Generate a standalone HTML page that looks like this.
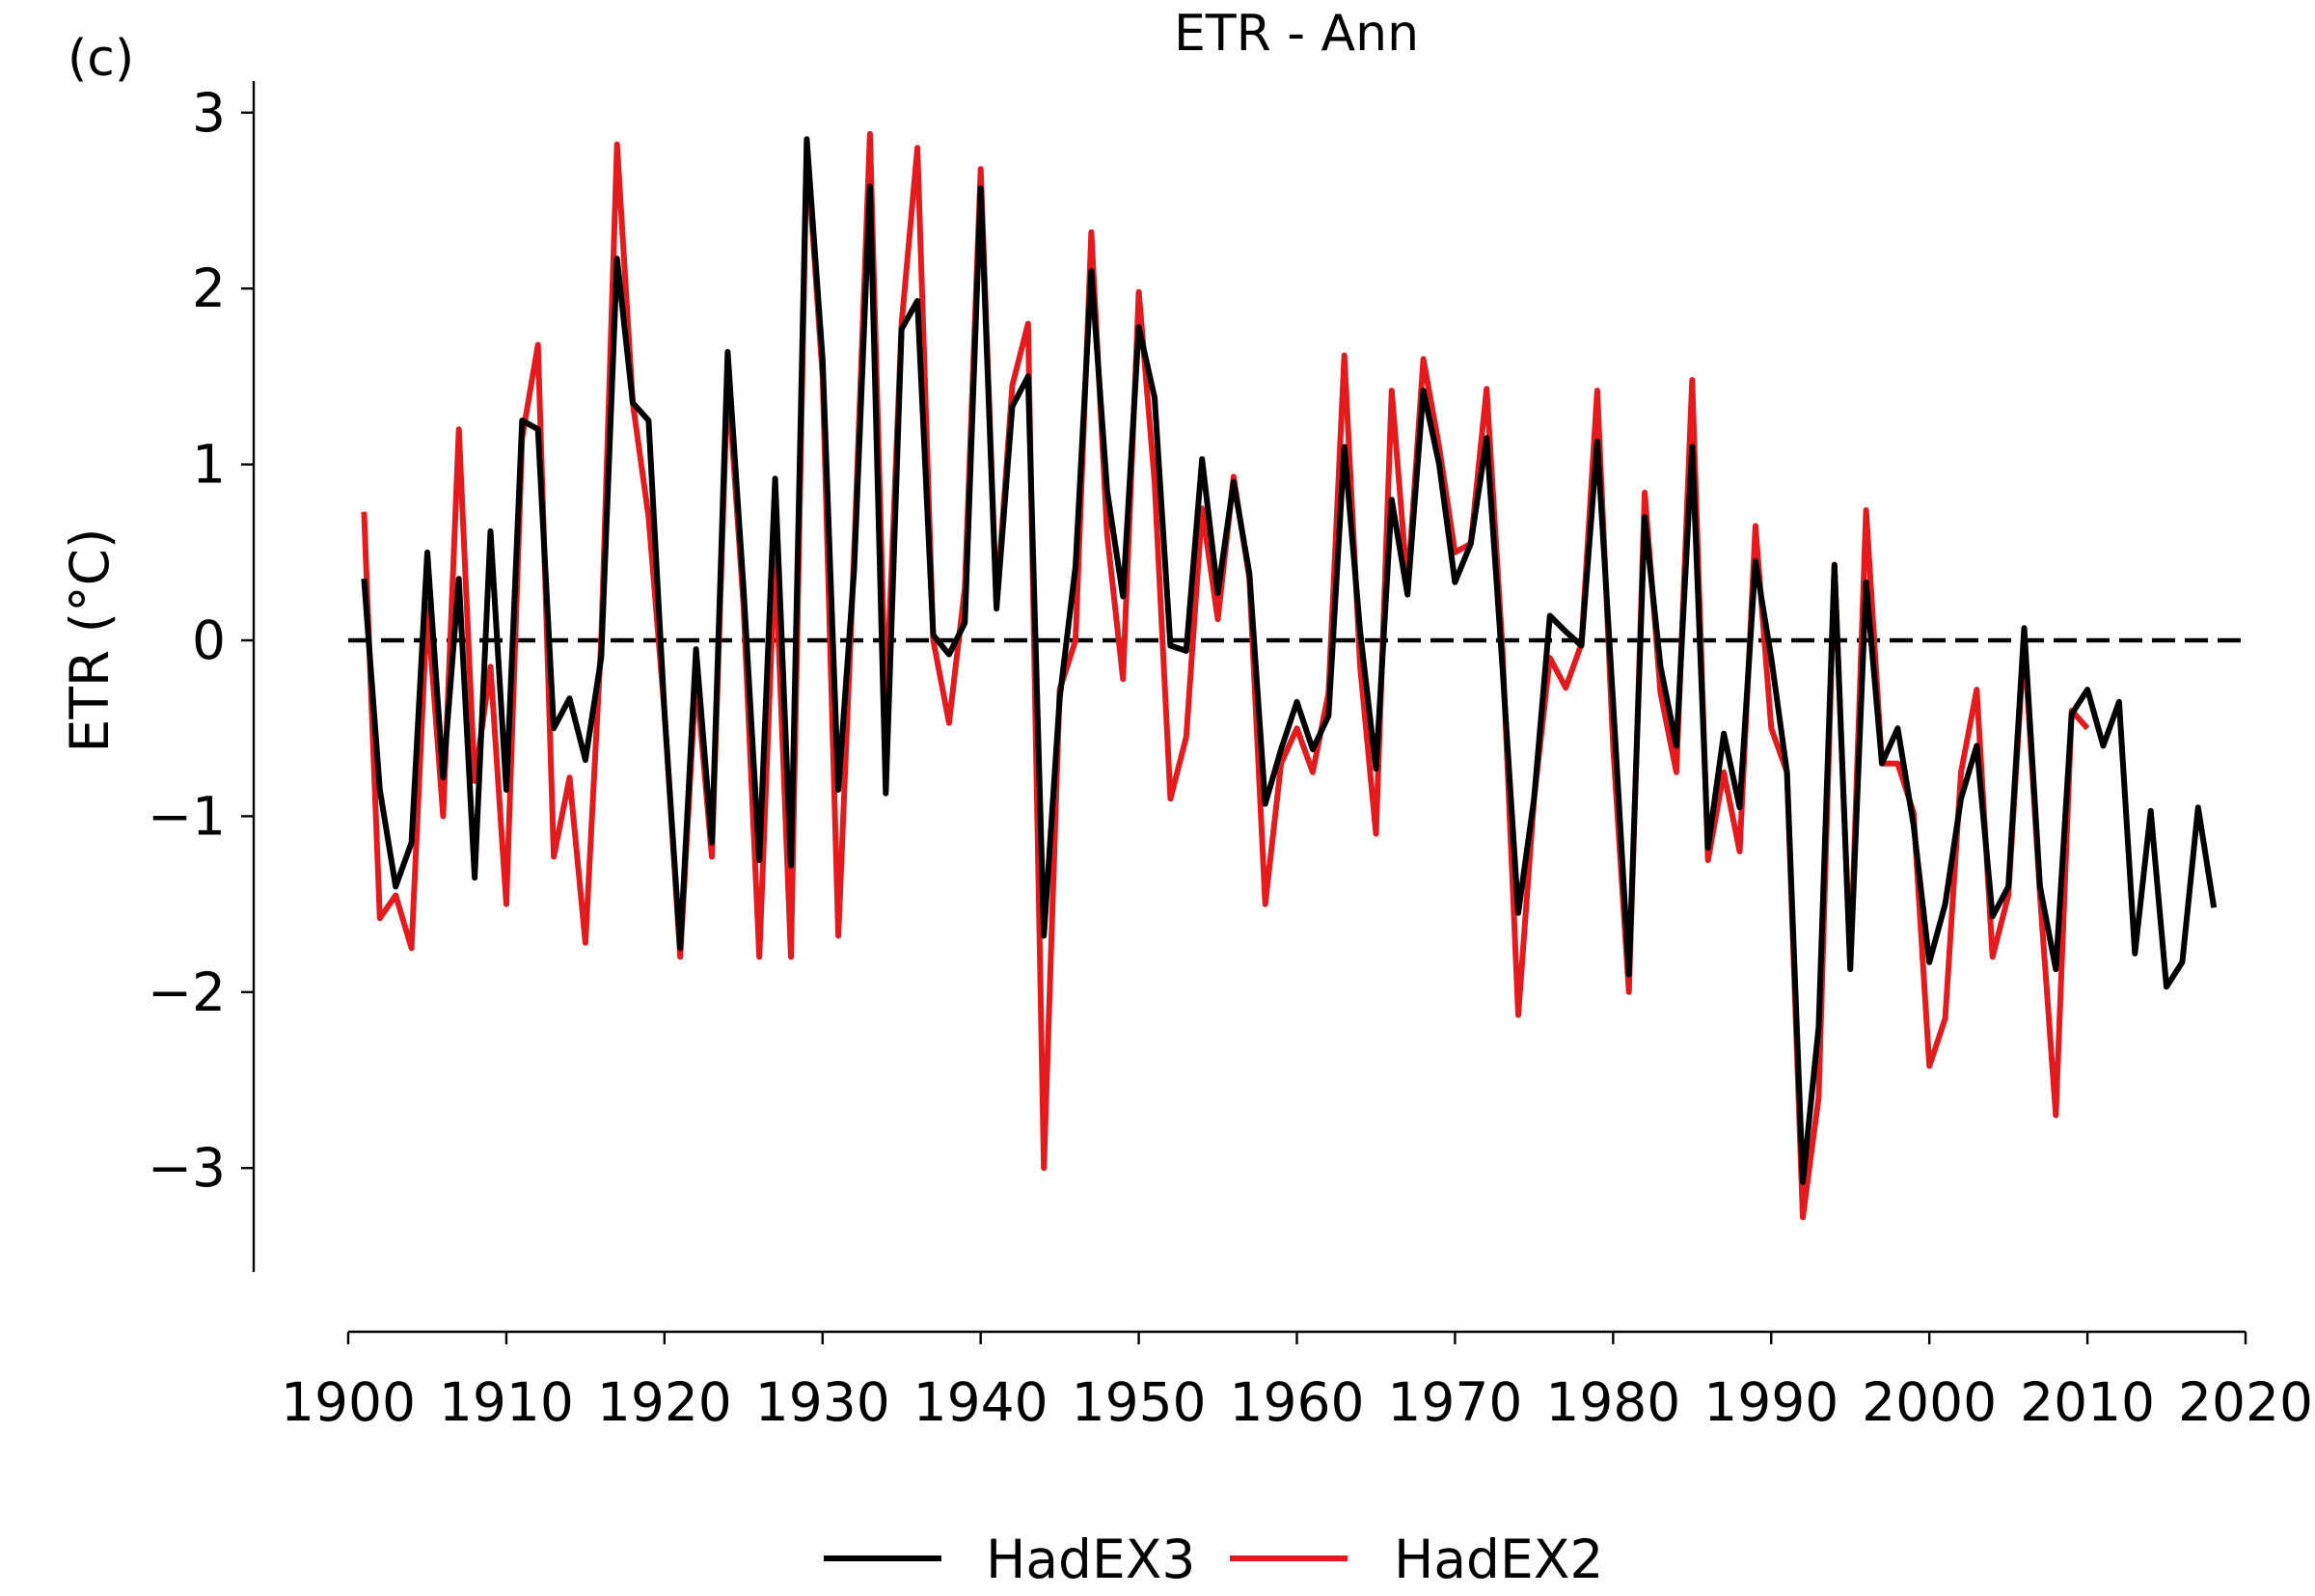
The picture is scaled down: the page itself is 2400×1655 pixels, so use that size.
<!DOCTYPE html>
<html><head><meta charset="utf-8"><style>
html,body{margin:0;padding:0;background:#fff;}
svg text{font-family:"DejaVu Sans","Liberation Sans",sans-serif;fill:#000;}
</style></head><body>
<svg id="chart" width="2400" height="1650" viewBox="0 0 2400 1650" xmlns="http://www.w3.org/2000/svg">
<text x="70" y="78" font-size="52">(c)</text>
<text x="1344" y="52" font-size="52" text-anchor="middle">ETR - Ann</text>
<text transform="translate(112,664) rotate(-90)" font-size="55" text-anchor="middle">ETR (°C)</text>
<g id="axes"></g>
<g id="series"></g>
<g>
<line x1="854" y1="1616" x2="976" y2="1616" stroke="#000" stroke-width="6"/>
<text x="1022" y="1636" font-size="55">HadEX3</text>
<line x1="1275" y1="1616" x2="1397" y2="1616" stroke="#e41a1c" stroke-width="6"/>
<text x="1445" y="1636" font-size="55">HadEX2</text>
</g>
</svg>
<script>
const xTicks = [1900,1910,1920,1930,1940,1950,1960,1970,1980,1990,2000,2010,2020];
const yTicks = [-3,-2,-1,0,1,2,3];
const yTickLabels = ["\u22123","\u22122","\u22121","0","1","2","3"];
const hadex3Start = 1901;
const hadex3 = [0.35,-0.85,-1.4,-1.15,0.5,-0.78,0.35,-1.35,0.62,-0.85,1.25,1.2,-0.5,-0.33,-0.68,-0.1,2.17,1.35,1.25,-0.4,-1.75,-0.05,-1.15,1.64,0.3,-1.25,0.92,-1.28,2.85,1.6,-0.85,0.4,2.58,-0.87,1.77,1.93,0.03,-0.08,0.1,2.57,0.18,1.33,1.5,-1.68,-0.33,0.42,2.1,0.85,0.25,1.78,1.38,-0.03,-0.06,1.03,0.27,0.9,0.38,-0.93,-0.62,-0.35,-0.62,-0.43,1.1,0.05,-0.73,0.8,0.26,1.42,1.0,0.33,0.55,1.15,-0.15,-1.55,-0.9,0.14,0.05,-0.03,1.13,-0.35,-1.9,0.7,-0.15,-0.6,1.1,-1.18,-0.53,-0.95,0.45,-0.1,-0.75,-3.08,-2.2,0.43,-1.87,0.33,-0.7,-0.5,-1.05,-1.83,-1.5,-0.9,-0.6,-1.57,-1.4,0.07,-1.4,-1.87,-0.42,-0.28,-0.6,-0.35,-1.78,-0.97,-1.97,-1.83,-0.95,-1.52];
const hadex2Start = 1901;
const hadex2 = [0.73,-1.58,-1.45,-1.75,0.2,-1.0,1.2,-0.8,-0.15,-1.5,1.15,1.68,-1.23,-0.78,-1.72,0.0,2.82,1.35,0.7,-0.4,-1.8,-0.2,-1.23,1.5,0.2,-1.8,0.5,-1.8,2.8,1.5,-1.68,0.5,2.88,-0.4,1.8,2.8,0.0,-0.47,0.3,2.68,0.2,1.45,1.8,-3.0,-0.28,0.0,2.32,0.6,-0.22,1.98,0.9,-0.9,-0.55,0.75,0.12,0.93,0.35,-1.5,-0.7,-0.5,-0.75,-0.3,1.62,-0.15,-1.1,1.42,0.3,1.6,1.1,0.5,0.55,1.43,-0.05,-2.13,-0.9,-0.1,-0.27,-0.02,1.42,-0.6,-2.0,0.84,-0.3,-0.75,1.48,-1.25,-0.75,-1.2,0.65,-0.5,-0.75,-3.28,-2.6,0.43,-1.85,0.74,-0.7,-0.7,-0.98,-2.42,-2.15,-0.75,-0.28,-1.8,-1.45,0.0,-1.45,-2.7,-0.4,-0.5];

const NS='http://www.w3.org/2000/svg';
function xs(yr){return 361+(yr-1900)*(2328-361)/120;}
function ys(v){return 664-v*182.4;}
function mk(tag,attrs,parent){const e=document.createElementNS(NS,tag);for(const k in attrs)e.setAttribute(k,attrs[k]);parent.appendChild(e);return e;}
const axes=document.getElementById('axes');
const series=document.getElementById('series');

let ySp=mk('line',{x1:263,y1:84,x2:263,y2:1319,stroke:'#000','stroke-width':2.4},axes);


let xSp=mk('line',{x1:361,y1:1381,x2:2328,y2:1381,stroke:'#000','stroke-width':2.4},axes);



yTicks.forEach((v,i)=>{
  const t=mk('line',{x1:250,y1:ys(v),x2:263,y2:ys(v),stroke:'#000','stroke-width':2.4},axes);
  
  
  const l=mk('text',{x:234,y:ys(v)+19,'font-size':55,'text-anchor':'end'},axes);
  l.textContent=yTickLabels[i];
  
  
});
xTicks.forEach(yr=>{
  const t=mk('line',{x1:xs(yr),y1:1381,x2:xs(yr),y2:1394,stroke:'#000','stroke-width':2.4},axes);
  
  
  const l=mk('text',{x:xs(yr),y:1473,'font-size':55,'text-anchor':'middle'},axes);
  l.textContent=String(yr);
  
  
});
let zl=mk('line',{x1:361,y1:ys(0),x2:2328,y2:ys(0),stroke:'#000','stroke-width':4.5,'stroke-dasharray':'24 10'},series);



function drawLine(vals,start,color,name){
  const pts=vals.map((v,i)=>xs(start+i).toFixed(1)+','+ys(v).toFixed(1)).join(' ');
  const p=mk('polyline',{points:pts,fill:'none',stroke:color,'stroke-width':6,'stroke-linejoin':'round'},series);
  
  
}
drawLine(hadex2,hadex2Start,'#e41a1c','hadex2-line');
drawLine(hadex3,hadex3Start,'#000','hadex3-line');
</script>
</body></html>
